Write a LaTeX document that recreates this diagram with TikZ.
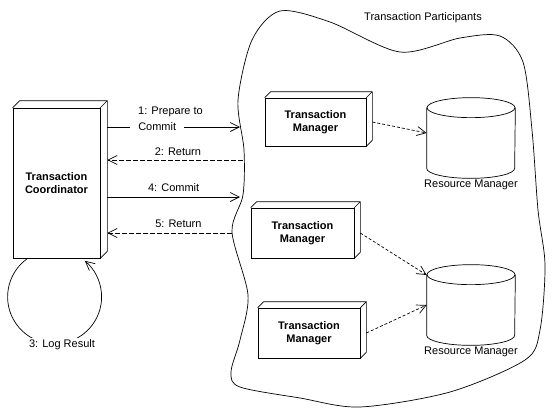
\documentclass[tikz,border=0pt]{standalone}
\usepackage{fontspec}
\setmainfont{Liberation Sans}
\usetikzlibrary{arrows.meta}
\tikzset{
  box/.style={draw,fill=white,align=center,inner sep=0pt,
    font=\fontsize{11}{13}\selectfont\bfseries},
  store/.style={minimum width=88pt,minimum height=80pt,inner sep=0pt},
  msg/.style={->},
  reply/.style={->,dash pattern=on 5pt off 2pt},
  uses/.style={->,dash pattern=on 3pt off 2pt}
}
\newcommand\boxdepth[2]{%
  \draw (#1.north west) -- ++(#2,-#2) -| ([shift={(#2,-#2)}]#1.south east)
    -- (#1.south east) (#1.north east) -- ++(#2,-#2);}
\newcommand\drum[1]{%
  \draw ([yshift=-10pt]#1.north) ellipse[x radius=44,y radius=10];
  \draw ([yshift=-10pt]#1.north west) -- ([yshift=10pt]#1.south west)
    arc[start angle=180,end angle=0,x radius=44,y radius=10]
    -- ([yshift=-10pt]#1.north east);}

\begin{document}
\begin{tikzpicture}[x=1pt,y=-1pt,line width=0.7pt,
  >={Straight Barb[length=9pt,width=9pt]},
  font=\fontsize{11}{13}\selectfont]
  \useasboundingbox (0,0) rectangle (552,415);

  % participants
  \draw plot[smooth cycle] coordinates {(280,11) (330,22) (400,52) (460,38)
    (500,36) (523,62) (532,130) (538,210) (545,265) (540,330) (525,360)
    (450,392) (360,407) (300,398) (240,387) (231,372) (240,340) (248,295)
    (232,232) (243,195) (244,150) (238,100) (252,40)};
  \node (title) at (423,18) {Transaction Participants};

  \node[box,minimum width=87pt,minimum height=150pt] (coord) at (56.5,183)
    {Transaction\\Coordinator};
  \boxdepth{coord}{7}

  \node[box,minimum width=101pt,minimum height=48pt] (tm1) at (315.5,122)
    {Transaction\\Manager};
  \node[box,minimum width=103pt,minimum height=50pt] (tm2) at (302.5,233)
    {Transaction\\Manager};
  \node[box,minimum width=102pt,minimum height=50pt] (tm3) at (309,333)
    {Transaction\\Manager};
  \foreach \tm in {tm1,tm2,tm3}
    {\boxdepth{\tm}{6}}

  \node[store,label={[inner sep=1pt]below:Resource Manager}] (rm1) at (471,138) {};
  \node[store,label={[inner sep=1pt]below:Resource Manager}] (rm2) at (471,305) {};
  \drum{rm1}
  \drum{rm2}

  % messages
  \coordinate (cside) at ([xshift=7pt]coord.east);
  \coordinate (p1) at (240,127);
  \coordinate (p2) at (243,160);
  \coordinate (p4) at (240,197);
  \coordinate (p5) at (232,233);

  \draw[msg] (cside |- p1) --
    node[pos=0.17,anchor=west,fill=white,inner xsep=8pt] (m1b) {Commit}
    node[pos=0.23,anchor=west,yshift=15pt,inner sep=0pt] (m1a) {1: Prepare to} (p1);
  \draw[reply] (p2) -- node[pos=0.48,above=1pt] (m2) {2: Return} (cside |- p2);
  \draw[msg] (cside |- p4) -- node[pos=0.5,above=2pt] (m4) {4: Commit} (p4);
  \draw[reply] (p5) -- node[pos=0.43,above=2pt] (m5) {5: Return} (cside |- p5);

  % log
  \draw[msg] ([xshift=15pt]coord.south west)
    arc[start angle=235,end angle=-50,radius=47];
  \node[fill=white,inner sep=2pt] (log) at (62,345) {3: Log Result};

  \draw[uses] ([xshift=6pt]tm1.east) -- ([yshift=5pt]rm1.west);
  \draw[uses] ([xshift=6pt]tm2.east) -- ([yshift=30pt]rm2.west);
  \draw[uses] ([xshift=6pt]tm3.east) -- (rm2.west);
\end{tikzpicture}
\end{document}
